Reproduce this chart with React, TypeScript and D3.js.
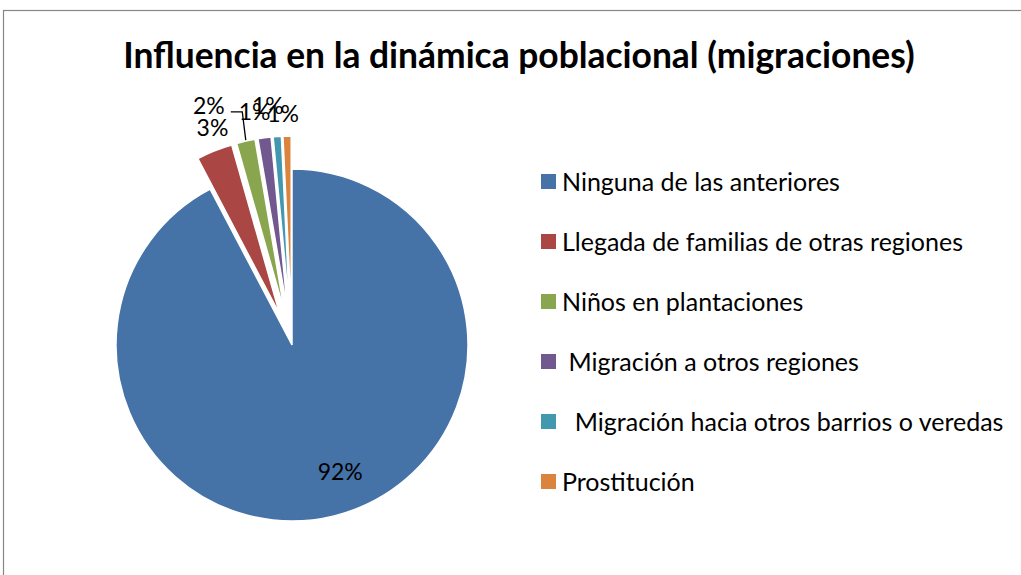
import React, { useEffect, useRef } from 'react';
import * as d3 from 'd3';

const title = 'Influencia en la dinámica poblacional (migraciones)';

const categories = [
  'Ninguna de las anteriores',
  'Llegada de familias de otras regiones',
  'Niños en plantaciones',
  ' Migración a otros regiones',
  '  Migración hacia otros barrios o veredas',
  'Prostitución',
];
const values = [92.3, 3.3, 1.7, 1.2, 0.75, 0.75];
const valueLabels = ['92%', '3%', '2%', '1%', '1%', '1%'];
const colors = ['#4572A7', '#AA4643', '#89A54E', '#71588F', '#4198AF', '#DB843D'];

const FONT = "Lato, 'Open Sans', sans-serif";

export default function App() {
  const ref = useRef<SVGSVGElement | null>(null);

  useEffect(() => {
    const svg = d3.select(ref.current);
    svg.selectAll('*').remove();

    const cx = 292, cy = 345, R = 176;

    // chart frame
    svg.append('rect')
      .attr('x', 3.5).attr('y', 10.5)
      .attr('width', 1040).attr('height', 600)
      .attr('fill', '#fff')
      .attr('stroke', '#868686')
      .attr('stroke-width', 1.2);

    svg.append('text')
      .attr('x', 519).attr('y', 68)
      .attr('text-anchor', 'middle')
      .style('font-family', FONT)
      .style('font-size', '35.4px')
      .style('font-weight', 'bold')
      .text(title);

    const data = categories.map((c, i) => ({ name: c, value: values[i], label: valueLabels[i], color: colors[i] }));

    const pie = d3.pie<any>().sort(null).value((d) => d.value);
    const arcs = pie(data);
    const arc = d3.arc<any>().innerRadius(0).outerRadius(R);

    const g = svg.append('g').attr('transform', `translate(${cx},${cy})`);

    const explode = (i: number) => (i === 0 ? 0 : 33);
    const mid = (a: any) => (a.startAngle + a.endAngle) / 2;
    const offset = (a: any, i: number) => {
      const m = mid(a);
      return [Math.sin(m) * explode(i), -Math.cos(m) * explode(i)];
    };

    g.selectAll('path.slice')
      .data(arcs)
      .enter().append('path')
      .attr('class', 'slice')
      .attr('d', arc)
      .attr('transform', (a, i) => `translate(${offset(a, i)})`)
      .attr('fill', (a) => a.data.color)
      .attr('stroke', '#fff')
      .attr('stroke-width', 1.5);

    // data labels: Excel "best fit" placement, roughly
    const rad = Math.PI / 180;
    const shift = [-7, 1.9, 0, -1.8, -2, -1];
    const gap = [0, 22, 27, 27, 31, 22];
    const labelPos = (a: any, i: number) => {
      const [ox, oy] = offset(a, i);
      const m = mid(a) + shift[i] * rad;
      if (i === 0) return [Math.sin(m) * R * 0.77, -Math.cos(m) * R * 0.77];
      let x = ox + Math.sin(m) * (R + gap[i]);
      let y = oy - Math.cos(m) * (R + gap[i]);
      if (i === 2) { x -= 31; y -= 9; }
      return [x, y];
    };

    // leader line for the moved label
    arcs.forEach((a, i) => {
      if (i !== 2) return;
      const [lx, ly] = labelPos(a, i);
      const [ox, oy] = offset(a, i);
      const m = mid(a);
      const ax = ox + Math.sin(m) * R;
      const ay = oy - Math.cos(m) * R;
      g.append('polyline')
        .attr('points', [[lx + 22, ly + 6], [ax - 3.5, ly + 6], [ax, ay - 1]].map((p) => p.join(',')).join(' '))
        .attr('fill', 'none')
        .attr('stroke', '#000')
        .attr('stroke-width', 1.3);
    });

    g.selectAll('text.lbl')
      .data(arcs)
      .enter().append('text')
      .attr('class', 'lbl')
      .attr('x', (a, i) => labelPos(a, i)[0])
      .attr('y', (a, i) => labelPos(a, i)[1])
      .attr('dy', '0.35em')
      .attr('text-anchor', 'middle')
      .style('font-family', FONT)
      .style('font-size', '23px')
      .text((a) => a.data.label);

    // legend
    const legY = d3.scaleBand<number>().domain(d3.range(categories.length)).range([174, 534]);
    const leg = svg.append('g');
    leg.selectAll('rect')
      .data(data)
      .enter().append('rect')
      .attr('x', 541)
      .attr('y', (d, i) => legY(i)!)
      .attr('width', 15).attr('height', 15)
      .attr('fill', (d) => d.color);
    leg.selectAll('text')
      .data(data)
      .enter().append('text')
      .attr('x', 562)
      .attr('y', (d, i) => legY(i)! + 17)
      .style('font-family', FONT)
      .style('font-size', '25px')
      .style('white-space', 'pre')
      .text((d) => d.name);
  }, []);

  return (
    <svg ref={ref} width={1021} height={575}
      style={{ position: 'absolute', left: 0, top: 0, background: '#fff' }} />
  );
}
